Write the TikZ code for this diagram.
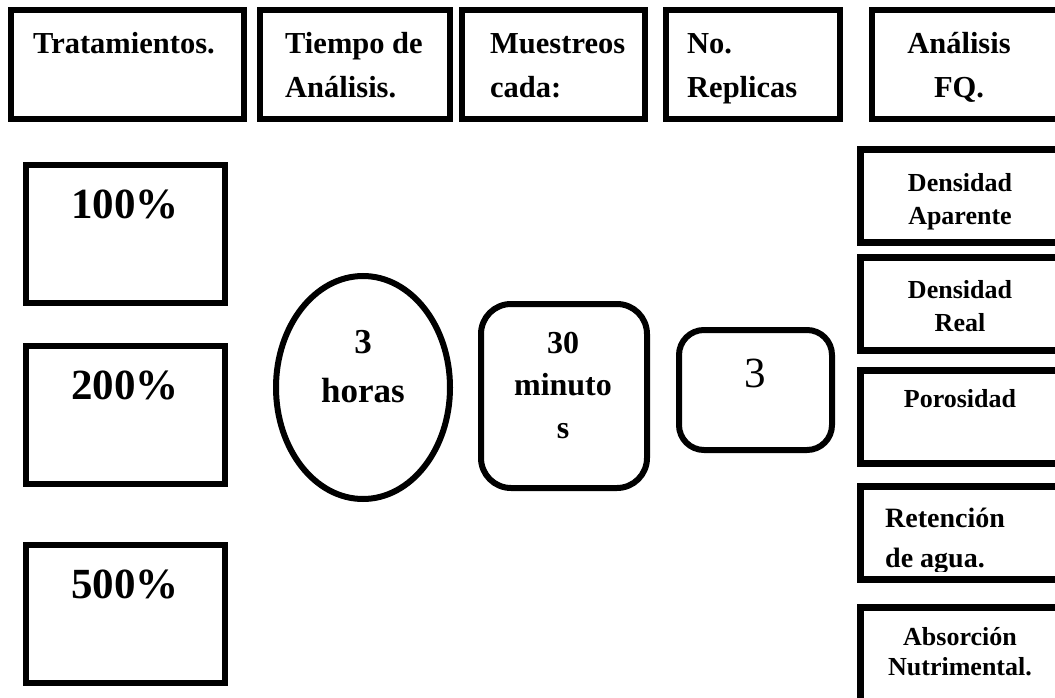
\documentclass[tikz,border=0pt]{standalone}
\usepackage{fontspec}
\setmainfont{Liberation Serif}
\usetikzlibrary{shapes.geometric}
\begin{document}
\begin{tikzpicture}[x=1pt,y=-1pt,
  box/.style={draw, line width=6.5pt, rectangle, inner sep=0pt},
  rbox/.style={box, rounded corners=28pt},
  leftbox/.style={box, line width=6pt, minimum width=199, minimum height=138},
  sidebox/.style={box, line width=7pt, minimum width=210, minimum height=93},
  headtxt/.style={inner sep=0pt, anchor=base west, align=left, font=\fontsize{30.5}{44}\selectfont\bfseries},
  pcttxt/.style={inner sep=0pt, anchor=base, font=\fontsize{43}{48}\selectfont\bfseries},
  sidetxt/.style={inner sep=0pt, anchor=base, align=center, font=\fontsize{26}{33}\selectfont\bfseries}]
\useasboundingbox (0,0) rectangle (1055,698);
\clip (0,0) rectangle (1055,698);
% texts (anchor = baseline of the last line)
\node[headtxt] (t1) at (33,54) {Tratamientos.};
\node[headtxt] (t2) at (285,98) {Tiempo de\\Análisis.};
\node[headtxt] (t3) at (490,98) {Muestreos\\cada:};
\node[headtxt] (t4) at (687,98) {No.\\Replicas};
\node[headtxt, anchor=base, align=center] (t5) at (959,98) {Análisis\\FQ.};
\node[pcttxt] (p1) at (125,218) {100\%};
\node[pcttxt] (p2) at (125,399) {200\%};
\node[pcttxt] (p3) at (125,598) {500\%};
\node[inner sep=0pt, anchor=base, align=center, font=\fontsize{35}{49}\selectfont\bfseries] (eh) at (363,402) {3\\horas};
\node[inner sep=0pt, anchor=base, align=center, font=\fontsize{32}{42.5}\selectfont\bfseries] (em) at (563,438) {30\\minuto\\s};
\node[inner sep=0pt, anchor=base, font=\fontsize{43}{50}\selectfont] (er) at (755,387) {3};
\node[sidetxt] (s1) at (960,224) {Densidad\\Aparente};
\node[sidetxt] (s2) at (960,331) {Densidad\\Real};
\node[sidetxt] (s3) at (960,407) {Porosidad};
\begin{scope}
  \clip (870,480) rectangle (1055,571);
  \node[sidetxt, anchor=base west, align=left, font=\fontsize{28}{40}\selectfont\bfseries] (s4) at (885,567) {Retención\\de agua.};
\end{scope}
\node[sidetxt, font=\fontsize{26}{30}\selectfont\bfseries] (s5) at (960,675) {Absorción\\Nutrimental.};
% top boxes
\node[box, minimum width=233, minimum height=109] (b1) at (127.5,64.5) {};
\node[box, minimum width=190, minimum height=109] (b2) at (355,64.5) {};
\node[box, minimum width=183, minimum height=109] (b3) at (553.5,64.5) {};
\node[box, minimum width=174, minimum height=109] (b4) at (753,64.5) {};
\node[box, minimum width=190, minimum height=109] (b5) at (967,64.5) {};
% left boxes
\node[leftbox] (l1) at (125.5,234) {};
\node[leftbox] (l2) at (125.5,415) {};
\node[leftbox] (l3) at (125.5,614) {};
% middle shapes
\node[ellipse, draw, line width=6pt, inner sep=0pt, minimum width=174, minimum height=223] (el) at (363,387.5) {};
\node[rbox, line width=6pt, rounded corners=30pt, minimum width=166, minimum height=184] (rm) at (564,396) {};
\node[rbox, line width=6pt, rounded corners=25pt, minimum width=153, minimum height=120] (rr) at (755.5,390) {};
% right boxes
\node[sidebox] (r1) at (965,196) {};
\node[sidebox] (r2) at (965,304) {};
\node[sidebox] (r3) at (965,417) {};
\node[sidebox] (r4) at (965,533) {};
\node[sidebox, minimum height=110] (r5) at (965,662) {};
\end{tikzpicture}
\end{document}
